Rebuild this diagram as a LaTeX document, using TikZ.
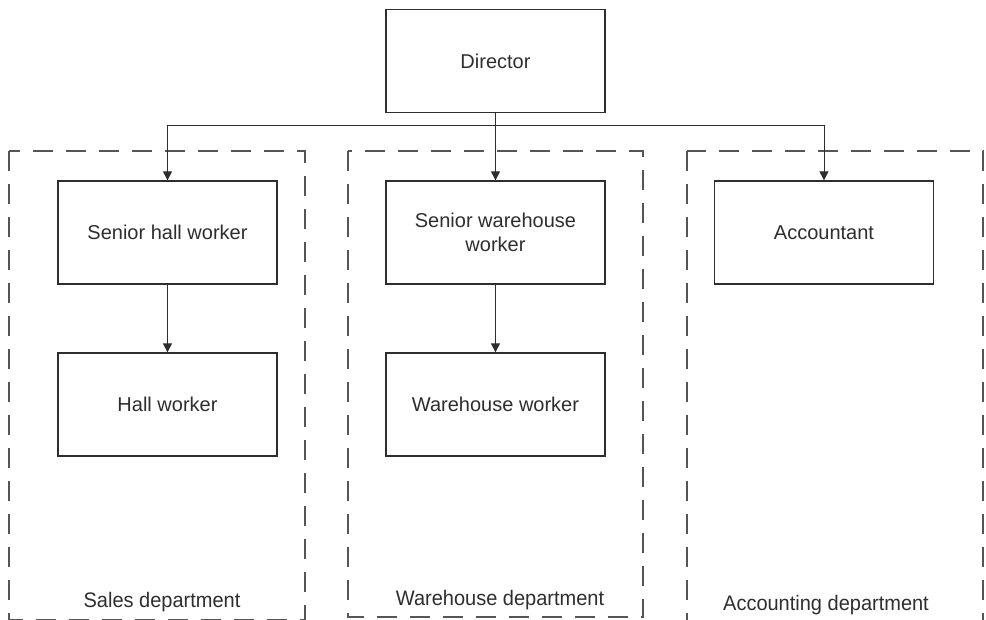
\documentclass[tikz,border=0pt]{standalone}
\usepackage{fontspec}
\setmainfont{Liberation Sans}
\usetikzlibrary{arrows.meta,calc}
\definecolor{ink}{HTML}{2E2E2E}
\definecolor{dash}{HTML}{555555}
\tikzset{
  role/.style={draw=ink, line width=1.3pt, fill=white, minimum width=219pt,
    minimum height=103pt, inner sep=0pt, align=center, text=ink,
    font=\fontsize{20}{24}\selectfont},
  dept/.style={draw=dash, line width=1.4pt, dash pattern=on 20pt off 13pt},
  deptlabel/.style={text=ink, font=\fontsize{20}{24}\selectfont, yscale=1.05, inner sep=0pt},
  link/.style={draw=ink, line width=1pt, -{Triangle[width=9pt,length=9pt]}},
  bus/.style={draw=ink, line width=1pt}
}
\begin{document}
\begin{tikzpicture}[x=1pt,y=-1pt]
  \useasboundingbox (0,0) rectangle (986,619);
  \clip (0,0) rectangle (986,619);

  % department frames
  \draw[dept] (9,151) rectangle (305,619.5);
  \draw[dept] (348,151) rectangle (643,617);
  \draw[dept] (687,151) rectangle (983,640);

  % department names
  \node[deptlabel] (salesname) at (162,602) {Sales department};
  \node[deptlabel] (whname) at (500,600) {Warehouse department};
  \node[deptlabel] (accname) at (826,605) {Accounting department};

  % positions
  \node[role] (dir) at (495.5,61) {Director};
  \node[role] (shw) at (167.5,232.5) {Senior hall worker};
  \node[role] (sww) at (495.5,232.5) {Senior warehouse\\worker};
  \node[role] (acc) at (824,232.5) {Accountant};
  \node[role] (hw)  at (167.5,404.5) {Hall worker};
  \node[role] (ww)  at (495.5,404.5) {Warehouse worker};

  % reporting lines
  \coordinate (split) at ($(dir.south)+(0,12)$);
  \draw[bus] (dir.south) -- (split);
  \draw[link] (split) -| (shw.north);
  \draw[link] (split) -| (acc.north);
  \draw[link] (split) -- (sww.north);
  \draw[link] (shw.south) -- (hw.north);
  \draw[link] (sww.south) -- (ww.north);
\end{tikzpicture}
\end{document}
